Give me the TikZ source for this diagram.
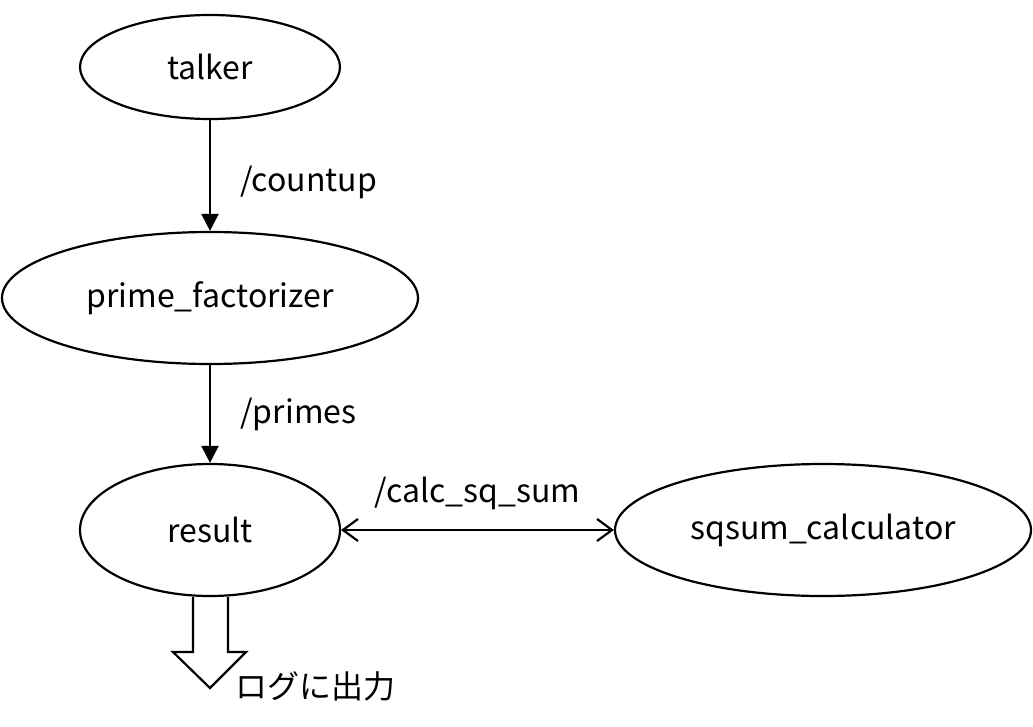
\documentclass[tikz,border=0pt]{standalone}
\usepackage{fontspec}
\setmainfont{Noto Sans CJK JP}
\usetikzlibrary{arrows.meta,shapes.geometric}

\tikzset{
  topic/.style={draw, ellipse, line width=2.2pt, font=\fontsize{32}{36}\selectfont},
  pub/.style={line width=2.2pt, -{Triangle[length=17pt,width=17pt]}},
  srv/.style={line width=2.2pt, {Straight Barb[length=15pt,width=22pt]}-{Straight Barb[length=15pt,width=22pt]}},
  lbl/.style={font=\fontsize{32}{36}\selectfont}
}

\begin{document}
\begin{tikzpicture}[x=1pt,y=-1pt]
  \useasboundingbox (0,0) rectangle (1033,726);
  \node[topic, minimum width=260pt, minimum height=104pt] (talker) at (210,67) {talker};
  \node[topic, minimum width=416pt, minimum height=132pt] (prime) at (210,298) {prime\_factorizer};
  \node[topic, minimum width=260pt, minimum height=132pt] (result) at (210,530) {result};
  \node[topic, minimum width=416pt, minimum height=132pt] (sqsum) at (823,530) {sqsum\_calculator};

  \draw[pub] (talker) -- node[lbl, right=26pt, yshift=-7pt] {/countup} (prime);
  \draw[pub] (prime) -- node[lbl, right=26pt] {/primes} (result);
  \draw[srv] (result) -- node[lbl, above=16pt] {/calc\_sq\_sum} (sqsum);

  % output to log
  \draw[line width=2.2pt] (193,597) -- (193,652) -- (173,652) -- (210,688)
    -- (246,652) -- (228,652) -- (228,597);
  \node[lbl, anchor=west] (log) at (232,686) {ログに出力};
\end{tikzpicture}
\end{document}
